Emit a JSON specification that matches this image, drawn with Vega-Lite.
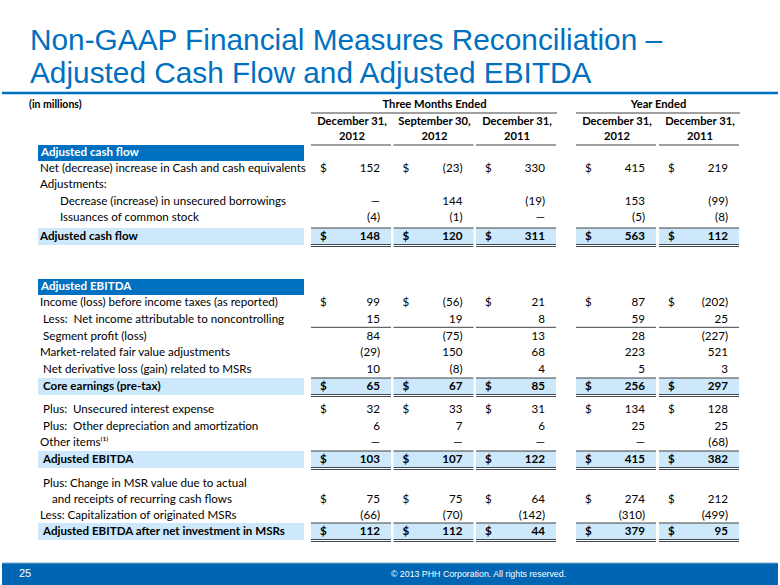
{
  "$schema": "https://vega.github.io/schema/vega-lite/v6.json",
  "width": 780,
  "height": 585,
  "autosize": {"type": "fit", "contains": "padding"},
  "padding": 0,
  "background": "white",
  "config": {"view": {"stroke": null}, "text": {"font": "Lato", "fontSize": 11.6, "baseline": "middle"}},
  "datasets": {
    "slide": [
      {"line": 1, "col": 0, "role": "title", "text": "Non-GAAP Financial Measures Reconciliation –"},
      {"line": 2, "col": 0, "role": "title", "text": "Adjusted Cash Flow and Adjusted EBITDA"},
      {"line": 27, "col": 0, "role": "page", "text": "25"},
      {"line": 27, "col": 2, "role": "copyright", "text": "© 2013 PHH Corporation. All rights reserved."}
    ],
    "heads": [
      {"line": 3, "col": 0, "type": "unit", "text": "(in millions)"},
      {"line": 3, "col": 2, "from": 1, "to": 3, "type": "group", "text": "Three Months Ended"},
      {"line": 3, "col": 4.5, "from": 4, "to": 5, "type": "group", "text": "Year Ended"},
      {"line": 4, "col": 1, "type": "col1", "text": "December 31,"},
      {"line": 4, "col": 2, "type": "col1", "text": "September 30,"},
      {"line": 4, "col": 3, "type": "col1", "text": "December 31,"},
      {"line": 4, "col": 4, "type": "col1", "text": "December 31,"},
      {"line": 4, "col": 5, "type": "col1", "text": "December 31,"},
      {"line": 5, "col": 1, "type": "col2", "text": "2012"},
      {"line": 5, "col": 2, "type": "col2", "text": "2012"},
      {"line": 5, "col": 3, "type": "col2", "text": "2011"},
      {"line": 5, "col": 4, "type": "col2", "text": "2012"},
      {"line": 5, "col": 5, "type": "col2", "text": "2011"}
    ],
    "labels": [
      {"line": 6, "col": 0, "type": "section", "text": "Adjusted cash flow"},
      {"line": 7, "col": 0, "type": "item", "text": "Net (decrease) increase in Cash and cash equivalents"},
      {"line": 8, "col": 0, "type": "item", "text": "Adjustments:"},
      {"line": 9, "col": 0, "type": "sub", "text": "Decrease (increase) in unsecured borrowings"},
      {"line": 10, "col": 0, "type": "sub", "text": "Issuances of common stock"},
      {"line": 11, "col": 0, "type": "total", "text": "Adjusted cash flow"},
      {"line": 12, "col": 0, "type": "section", "text": "Adjusted EBITDA"},
      {"line": 13, "col": 0, "type": "item", "text": "Income (loss) before income taxes (as reported)"},
      {"line": 14, "col": 0, "type": "item_i", "text": "Less:\u00a0 Net income attributable to noncontrolling"},
      {"line": 15, "col": 0, "type": "item_i", "text": "Segment profit (loss)"},
      {"line": 16, "col": 0, "type": "item", "text": "Market-related fair value adjustments"},
      {"line": 17, "col": 0, "type": "item_i", "text": "Net derivative loss (gain) related to MSRs"},
      {"line": 18, "col": 0, "type": "total_i", "text": "Core earnings (pre-tax)"},
      {"line": 19, "col": 0, "type": "item_i", "text": "Plus:\u00a0 Unsecured interest expense"},
      {"line": 20, "col": 0, "type": "item_i", "text": "Plus:\u00a0 Other depreciation and amortization"},
      {"line": 21, "col": 0, "type": "item", "text": "Other items⁽¹⁾"},
      {"line": 22, "col": 0, "type": "total_i", "text": "Adjusted EBITDA"},
      {"line": 23, "col": 0, "type": "item_i", "text": "Plus: Change in MSR value due to actual"},
      {"line": 24, "col": 0, "type": "cont", "text": "and receipts of recurring cash flows"},
      {"line": 25, "col": 0, "type": "item", "text": "Less: Capitalization of originated MSRs"},
      {"line": 26, "col": 0, "type": "total_i", "text": "Adjusted EBITDA after net investment in MSRs"}
    ],
    "values": [
      {"line": 7, "col": 1, "cur": "$", "kind": "item", "text": "152"},
      {"line": 7, "col": 2, "cur": "$", "kind": "item", "text": "(23)"},
      {"line": 7, "col": 3, "cur": "$", "kind": "item", "text": "330"},
      {"line": 7, "col": 4, "cur": "$", "kind": "item", "text": "415"},
      {"line": 7, "col": 5, "cur": "$", "kind": "item", "text": "219"},
      {"line": 9, "col": 1, "cur": "", "kind": "item", "text": "—"},
      {"line": 9, "col": 2, "cur": "", "kind": "item", "text": "144"},
      {"line": 9, "col": 3, "cur": "", "kind": "item", "text": "(19)"},
      {"line": 9, "col": 4, "cur": "", "kind": "item", "text": "153"},
      {"line": 9, "col": 5, "cur": "", "kind": "item", "text": "(99)"},
      {"line": 10, "col": 1, "cur": "", "kind": "item", "text": "(4)"},
      {"line": 10, "col": 2, "cur": "", "kind": "item", "text": "(1)"},
      {"line": 10, "col": 3, "cur": "", "kind": "item", "text": "—"},
      {"line": 10, "col": 4, "cur": "", "kind": "item", "text": "(5)"},
      {"line": 10, "col": 5, "cur": "", "kind": "item", "text": "(8)"},
      {"line": 11, "col": 1, "cur": "$", "kind": "total", "text": "148"},
      {"line": 11, "col": 2, "cur": "$", "kind": "total", "text": "120"},
      {"line": 11, "col": 3, "cur": "$", "kind": "total", "text": "311"},
      {"line": 11, "col": 4, "cur": "$", "kind": "total", "text": "563"},
      {"line": 11, "col": 5, "cur": "$", "kind": "total", "text": "112"},
      {"line": 13, "col": 1, "cur": "$", "kind": "item", "text": "99"},
      {"line": 13, "col": 2, "cur": "$", "kind": "item", "text": "(56)"},
      {"line": 13, "col": 3, "cur": "$", "kind": "item", "text": "21"},
      {"line": 13, "col": 4, "cur": "$", "kind": "item", "text": "87"},
      {"line": 13, "col": 5, "cur": "$", "kind": "item", "text": "(202)"},
      {"line": 14, "col": 1, "cur": "", "kind": "less", "text": "15"},
      {"line": 14, "col": 2, "cur": "", "kind": "less", "text": "19"},
      {"line": 14, "col": 3, "cur": "", "kind": "less", "text": "8"},
      {"line": 14, "col": 4, "cur": "", "kind": "less", "text": "59"},
      {"line": 14, "col": 5, "cur": "", "kind": "less", "text": "25"},
      {"line": 15, "col": 1, "cur": "", "kind": "item", "text": "84"},
      {"line": 15, "col": 2, "cur": "", "kind": "item", "text": "(75)"},
      {"line": 15, "col": 3, "cur": "", "kind": "item", "text": "13"},
      {"line": 15, "col": 4, "cur": "", "kind": "item", "text": "28"},
      {"line": 15, "col": 5, "cur": "", "kind": "item", "text": "(227)"},
      {"line": 16, "col": 1, "cur": "", "kind": "item", "text": "(29)"},
      {"line": 16, "col": 2, "cur": "", "kind": "item", "text": "150"},
      {"line": 16, "col": 3, "cur": "", "kind": "item", "text": "68"},
      {"line": 16, "col": 4, "cur": "", "kind": "item", "text": "223"},
      {"line": 16, "col": 5, "cur": "", "kind": "item", "text": "521"},
      {"line": 17, "col": 1, "cur": "", "kind": "item", "text": "10"},
      {"line": 17, "col": 2, "cur": "", "kind": "item", "text": "(8)"},
      {"line": 17, "col": 3, "cur": "", "kind": "item", "text": "4"},
      {"line": 17, "col": 4, "cur": "", "kind": "item", "text": "5"},
      {"line": 17, "col": 5, "cur": "", "kind": "item", "text": "3"},
      {"line": 18, "col": 1, "cur": "$", "kind": "total", "text": "65"},
      {"line": 18, "col": 2, "cur": "$", "kind": "total", "text": "67"},
      {"line": 18, "col": 3, "cur": "$", "kind": "total", "text": "85"},
      {"line": 18, "col": 4, "cur": "$", "kind": "total", "text": "256"},
      {"line": 18, "col": 5, "cur": "$", "kind": "total", "text": "297"},
      {"line": 19, "col": 1, "cur": "$", "kind": "item", "text": "32"},
      {"line": 19, "col": 2, "cur": "$", "kind": "item", "text": "33"},
      {"line": 19, "col": 3, "cur": "$", "kind": "item", "text": "31"},
      {"line": 19, "col": 4, "cur": "$", "kind": "item", "text": "134"},
      {"line": 19, "col": 5, "cur": "$", "kind": "item", "text": "128"},
      {"line": 20, "col": 1, "cur": "", "kind": "item", "text": "6"},
      {"line": 20, "col": 2, "cur": "", "kind": "item", "text": "7"},
      {"line": 20, "col": 3, "cur": "", "kind": "item", "text": "6"},
      {"line": 20, "col": 4, "cur": "", "kind": "item", "text": "25"},
      {"line": 20, "col": 5, "cur": "", "kind": "item", "text": "25"},
      {"line": 21, "col": 1, "cur": "", "kind": "item", "text": "—"},
      {"line": 21, "col": 2, "cur": "", "kind": "item", "text": "—"},
      {"line": 21, "col": 3, "cur": "", "kind": "item", "text": "—"},
      {"line": 21, "col": 4, "cur": "", "kind": "item", "text": "—"},
      {"line": 21, "col": 5, "cur": "", "kind": "item", "text": "(68)"},
      {"line": 22, "col": 1, "cur": "$", "kind": "total", "text": "103"},
      {"line": 22, "col": 2, "cur": "$", "kind": "total", "text": "107"},
      {"line": 22, "col": 3, "cur": "$", "kind": "total", "text": "122"},
      {"line": 22, "col": 4, "cur": "$", "kind": "total", "text": "415"},
      {"line": 22, "col": 5, "cur": "$", "kind": "total", "text": "382"},
      {"line": 24, "col": 1, "cur": "$", "kind": "item", "text": "75"},
      {"line": 24, "col": 2, "cur": "$", "kind": "item", "text": "75"},
      {"line": 24, "col": 3, "cur": "$", "kind": "item", "text": "64"},
      {"line": 24, "col": 4, "cur": "$", "kind": "item", "text": "274"},
      {"line": 24, "col": 5, "cur": "$", "kind": "item", "text": "212"},
      {"line": 25, "col": 1, "cur": "", "kind": "item", "text": "(66)"},
      {"line": 25, "col": 2, "cur": "", "kind": "item", "text": "(70)"},
      {"line": 25, "col": 3, "cur": "", "kind": "item", "text": "(142)"},
      {"line": 25, "col": 4, "cur": "", "kind": "item", "text": "(310)"},
      {"line": 25, "col": 5, "cur": "", "kind": "item", "text": "(499)"},
      {"line": 26, "col": 1, "cur": "$", "kind": "total", "text": "112"},
      {"line": 26, "col": 2, "cur": "$", "kind": "total", "text": "112"},
      {"line": 26, "col": 3, "cur": "$", "kind": "total", "text": "44"},
      {"line": 26, "col": 4, "cur": "$", "kind": "total", "text": "379"},
      {"line": 26, "col": 5, "cur": "$", "kind": "total", "text": "95"}
    ]
  },
  "layer": [
    {
      "data": {"name": "slide"},
      "transform": [{"filter": "datum.role == 'page'"}],
      "mark": {"type": "rect", "color": "#0066B3", "yOffset": -11, "y2Offset": 12},
      "encoding": {
        "y": {"field": "line", "type": "quantitative", "axis": null, "scale": {"type": "linear", "domain": [1, 2, 3, 4, 5, 6, 7, 10, 11, 12, 13, 18, 19, 22, 23, 26, 27], "range": [41, 74, 105, 122, 137, 153, 169, 218, 237, 287, 303, 387, 410, 460, 484, 532, 574], "nice": false, "zero": false}},
        "y2": {"field": "line"}
      }
    },
    {
      "data": {"name": "slide"},
      "transform": [{"filter": "datum.role == 'page'"}],
      "mark": {"type": "rule", "color": "#7fa7cf", "strokeWidth": 1, "yOffset": -11},
      "encoding": {"y": {"field": "line", "type": "quantitative"}}
    },
    {
      "data": {"name": "slide"},
      "transform": [{"filter": "datum.role == 'title' && datum.line == 2"}],
      "mark": {"type": "rule", "color": "#0070C0", "strokeWidth": 2.5, "yOffset": 19},
      "encoding": {"y": {"field": "line", "type": "quantitative"}}
    },
    {
      "data": {"name": "slide"},
      "transform": [{"filter": "datum.role == 'title'"}],
      "mark": {"type": "text", "font": "Liberation Sans", "fontSize": 29.8, "color": "#0070C0", "align": "left", "dx": -10},
      "encoding": {
        "x": {"field": "col", "type": "quantitative", "axis": null, "scale": {"type": "linear", "domain": [0, 1, 3, 4, 5], "range": [38, 378, 543, 643, 726], "nice": false, "zero": false}},
        "y": {"field": "line", "type": "quantitative"},
        "text": {"field": "text"}
      }
    },
    {
      "data": {"name": "slide"},
      "transform": [{"filter": "datum.role == 'page'"}],
      "mark": {"type": "text", "font": "Liberation Sans", "fontSize": 11, "color": "white", "align": "left", "dx": -21},
      "encoding": {
        "x": {"field": "col", "type": "quantitative"},
        "y": {"field": "line", "type": "quantitative"},
        "text": {"field": "text"}
      }
    },
    {
      "data": {"name": "slide"},
      "transform": [{"filter": "datum.role == 'copyright'"}],
      "mark": {"type": "text", "font": "Liberation Sans", "fontSize": 8.8, "color": "white", "align": "center", "dx": 16},
      "encoding": {
        "x": {"field": "col", "type": "quantitative"},
        "y": {"field": "line", "type": "quantitative"},
        "text": {"field": "text"}
      }
    },
    {
      "data": {"name": "labels"},
      "transform": [{"filter": "datum.type == 'section'"}],
      "mark": {"type": "rect", "color": "#0070C0", "xOffset": -2, "x2Offset": 264, "yOffset": -8, "y2Offset": 8},
      "encoding": {
        "x": {"field": "col", "type": "quantitative"},
        "x2": {"field": "col"},
        "y": {"field": "line", "type": "quantitative"},
        "y2": {"field": "line"}
      }
    },
    {
      "data": {"name": "labels"},
      "transform": [{"filter": "datum.type == 'total' || datum.type == 'total_i'"}],
      "mark": {"type": "rect", "color": "#CCE8FA", "xOffset": -2, "x2Offset": 264, "yOffset": -9, "y2Offset": 8},
      "encoding": {
        "x": {"field": "col", "type": "quantitative"},
        "x2": {"field": "col"},
        "y": {"field": "line", "type": "quantitative"},
        "y2": {"field": "line"}
      }
    },
    {
      "data": {"name": "values"},
      "transform": [{"filter": "datum.kind == 'total'"}],
      "mark": {"type": "rect", "color": "#CCE8FA", "xOffset": -69, "x2Offset": 11, "yOffset": -9, "y2Offset": 7},
      "encoding": {
        "x": {"field": "col", "type": "quantitative"},
        "x2": {"field": "col"},
        "y": {"field": "line", "type": "quantitative"},
        "y2": {"field": "line"}
      }
    },
    {
      "data": {"name": "values"},
      "transform": [{"filter": "datum.kind == 'total'"}],
      "mark": {"type": "rule", "color": "#404040", "strokeWidth": 1, "xOffset": -69, "x2Offset": 11, "yOffset": -9},
      "encoding": {
        "x": {"field": "col", "type": "quantitative"},
        "x2": {"field": "col"},
        "y": {"field": "line", "type": "quantitative"}
      }
    },
    {
      "data": {"name": "values"},
      "transform": [{"filter": "datum.kind == 'total'"}],
      "mark": {"type": "rule", "color": "#3f4a55", "strokeWidth": 1.2, "xOffset": -69, "x2Offset": 11, "yOffset": 7.5},
      "encoding": {
        "x": {"field": "col", "type": "quantitative"},
        "x2": {"field": "col"},
        "y": {"field": "line", "type": "quantitative"}
      }
    },
    {
      "data": {"name": "values"},
      "transform": [{"filter": "datum.kind == 'total'"}],
      "mark": {"type": "rule", "color": "#3f4a55", "strokeWidth": 1.2, "xOffset": -69, "x2Offset": 11, "yOffset": 9.5},
      "encoding": {
        "x": {"field": "col", "type": "quantitative"},
        "x2": {"field": "col"},
        "y": {"field": "line", "type": "quantitative"}
      }
    },
    {
      "data": {"name": "values"},
      "transform": [{"filter": "datum.kind == 'less'"}],
      "mark": {"type": "rule", "color": "#404040", "strokeWidth": 1, "xOffset": -69, "x2Offset": 11, "yOffset": 7.5},
      "encoding": {
        "x": {"field": "col", "type": "quantitative"},
        "x2": {"field": "col"},
        "y": {"field": "line", "type": "quantitative"}
      }
    },
    {
      "data": {"name": "heads"},
      "transform": [{"filter": "datum.type == 'col2'"}],
      "mark": {"type": "rule", "color": "#404040", "strokeWidth": 1, "xOffset": -69, "x2Offset": 11, "yOffset": 8},
      "encoding": {
        "x": {"field": "col", "type": "quantitative"},
        "x2": {"field": "col"},
        "y": {"field": "line", "type": "quantitative"}
      }
    },
    {
      "data": {"name": "heads"},
      "transform": [{"filter": "datum.type == 'group'"}],
      "mark": {"type": "rule", "color": "#404040", "strokeWidth": 1, "xOffset": -69, "x2Offset": 12, "yOffset": 8},
      "encoding": {
        "x": {"field": "from", "type": "quantitative"},
        "x2": {"field": "to"},
        "y": {"field": "line", "type": "quantitative"}
      }
    },
    {
      "data": {"name": "heads"},
      "transform": [{"filter": "datum.type != 'unit'"}],
      "mark": {"type": "text", "fontWeight": "bold", "fontSize": 11.2, "color": "black", "align": "center", "dx": -28},
      "encoding": {
        "x": {"field": "col", "type": "quantitative"},
        "y": {"field": "line", "type": "quantitative"},
        "text": {"field": "text"}
      }
    },
    {
      "data": {"name": "heads"},
      "transform": [{"filter": "datum.type == 'unit'"}],
      "mark": {"type": "text", "fontWeight": "bold", "fontSize": 10.5, "color": "black", "align": "left", "dx": -11},
      "encoding": {
        "x": {"field": "col", "type": "quantitative"},
        "y": {"field": "line", "type": "quantitative"},
        "text": {"field": "text"}
      }
    },
    {
      "data": {"name": "labels"},
      "transform": [{"filter": "datum.type == 'section'"}],
      "mark": {"type": "text", "fontWeight": "bold", "color": "white", "align": "left", "dx": 1},
      "encoding": {
        "x": {"field": "col", "type": "quantitative"},
        "y": {"field": "line", "type": "quantitative"},
        "text": {"field": "text"}
      }
    },
    {
      "data": {"name": "labels"},
      "transform": [{"filter": "datum.type == 'total'"}],
      "mark": {"type": "text", "fontWeight": "bold", "color": "black", "align": "left"},
      "encoding": {
        "x": {"field": "col", "type": "quantitative"},
        "y": {"field": "line", "type": "quantitative"},
        "text": {"field": "text"}
      }
    },
    {
      "data": {"name": "labels"},
      "transform": [{"filter": "datum.type == 'total_i'"}],
      "mark": {"type": "text", "fontWeight": "bold", "color": "black", "align": "left", "dx": 3},
      "encoding": {
        "x": {"field": "col", "type": "quantitative"},
        "y": {"field": "line", "type": "quantitative"},
        "text": {"field": "text"}
      }
    },
    {
      "data": {"name": "labels"},
      "transform": [{"filter": "datum.type == 'item'"}],
      "mark": {"type": "text", "color": "black", "align": "left"},
      "encoding": {
        "x": {"field": "col", "type": "quantitative"},
        "y": {"field": "line", "type": "quantitative"},
        "text": {"field": "text"}
      }
    },
    {
      "data": {"name": "labels"},
      "transform": [{"filter": "datum.type == 'item_i'"}],
      "mark": {"type": "text", "color": "black", "align": "left", "dx": 3},
      "encoding": {
        "x": {"field": "col", "type": "quantitative"},
        "y": {"field": "line", "type": "quantitative"},
        "text": {"field": "text"}
      }
    },
    {
      "data": {"name": "labels"},
      "transform": [{"filter": "datum.type == 'cont'"}],
      "mark": {"type": "text", "color": "black", "align": "left", "dx": 12},
      "encoding": {
        "x": {"field": "col", "type": "quantitative"},
        "y": {"field": "line", "type": "quantitative"},
        "text": {"field": "text"}
      }
    },
    {
      "data": {"name": "labels"},
      "transform": [{"filter": "datum.type == 'sub'"}],
      "mark": {"type": "text", "color": "black", "align": "left", "dx": 20},
      "encoding": {
        "x": {"field": "col", "type": "quantitative"},
        "y": {"field": "line", "type": "quantitative"},
        "text": {"field": "text"}
      }
    },
    {
      "data": {"name": "values"},
      "transform": [{"filter": "datum.kind != 'total'"}],
      "mark": {"type": "text", "color": "black", "align": "right"},
      "encoding": {
        "x": {"field": "col", "type": "quantitative"},
        "y": {"field": "line", "type": "quantitative"},
        "text": {"field": "text"}
      }
    },
    {
      "data": {"name": "values"},
      "transform": [{"filter": "datum.kind == 'total'"}],
      "mark": {"type": "text", "fontWeight": "bold", "color": "black", "align": "right"},
      "encoding": {
        "x": {"field": "col", "type": "quantitative"},
        "y": {"field": "line", "type": "quantitative"},
        "text": {"field": "text"}
      }
    },
    {
      "data": {"name": "values"},
      "transform": [{"filter": "datum.cur != '' && datum.kind != 'total'"}],
      "mark": {"type": "text", "color": "black", "align": "left", "dx": -60},
      "encoding": {
        "x": {"field": "col", "type": "quantitative"},
        "y": {"field": "line", "type": "quantitative"},
        "text": {"field": "cur"}
      }
    },
    {
      "data": {"name": "values"},
      "transform": [{"filter": "datum.cur != '' && datum.kind == 'total'"}],
      "mark": {"type": "text", "fontWeight": "bold", "color": "black", "align": "left", "dx": -60},
      "encoding": {
        "x": {"field": "col", "type": "quantitative"},
        "y": {"field": "line", "type": "quantitative"},
        "text": {"field": "cur"}
      }
    }
  ]
}
